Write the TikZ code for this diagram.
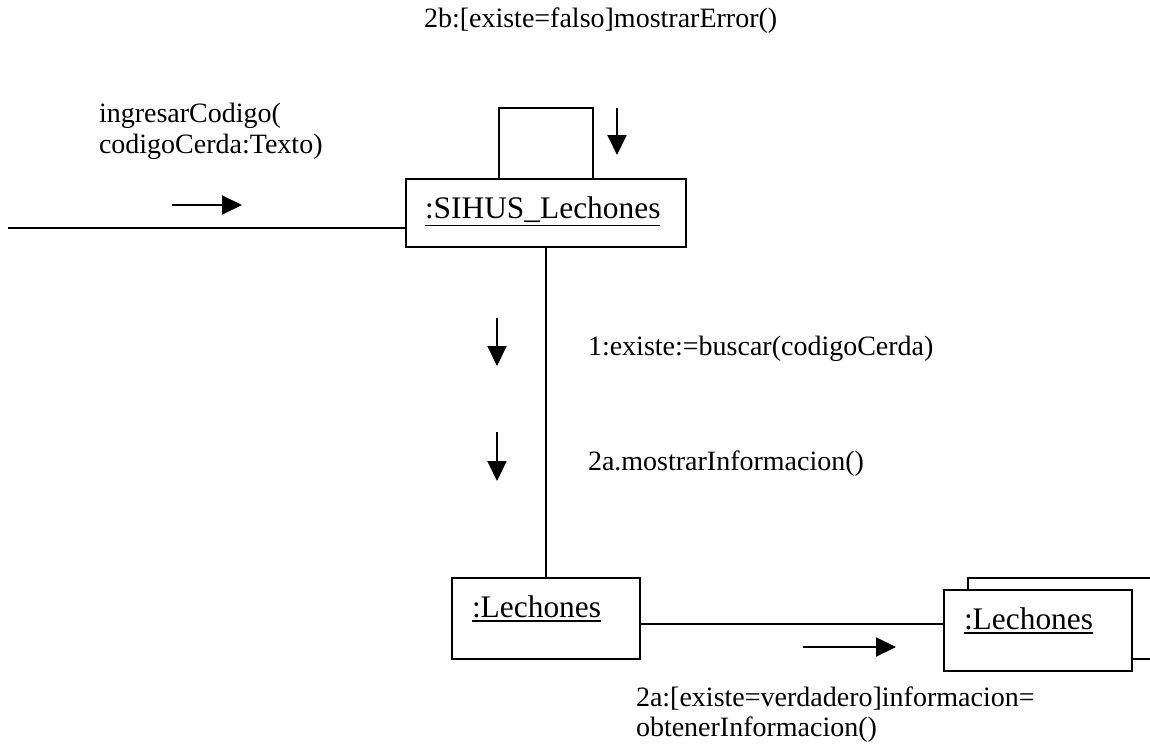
\documentclass[tikz,border=0pt]{standalone}
\usepackage{fontspec}
\setmainfont{Liberation Serif}
\usetikzlibrary{arrows.meta,positioning}
\def\lbl{\fontsize{28}{30}\selectfont}
\def\objname#1{\vtop{\hbox{#1}\kern2.5pt\hrule height 1.8pt}}

\begin{document}
\begin{tikzpicture}[x=1pt,y=-1pt,>={Triangle[length=20pt,width=19pt]},line width=2pt,
    obj/.style={draw,fill=white,font=\fontsize{31.4}{36}\selectfont,align=left,
        text width=148pt,inner xsep=20pt,inner ysep=0pt,text height=39pt,text depth=42pt},
    msg/.style={font=\lbl,inner sep=0pt,align=left}]

    \useasboundingbox (0,0) rectangle (1150,749);
    \clip (0,0) rectangle (1150,749);

    \node[obj,text width=242pt,inner xsep=19pt,text depth=29pt] (SH) at (546,213) {\objname{:SIHUS\_Lechones}};

    \node[obj,below=329pt of SH] (LA) {\objname{:Lechones}};

    \node[obj,right=326pt of LA] (LC) {};
    \node[obj] (LB) at ([xshift=-24pt,yshift=-12pt]LC) {\objname{:Lechones}};

    \coordinate (IN) at (8,228);
    \draw (IN) to (IN -| SH.west);

    \coordinate (LL) at (499,108);
    \coordinate (LR) at (593,108);
    \draw (LL |- SH.north) -- (LL) -- (LR) -- (LR |- SH.north);

    \draw (SH) to (LA);

    \draw (LA.east) ++(0,5.5) coordinate (LK) to (LK -| LB.west);

    \node[msg,anchor=base west] (T) at (423,28) {2b:[existe=falso]mostrarError()};
    \node[msg,anchor=base west] (IC) at (98,153) {ingresarCodigo(\\codigoCerda:Texto)};
    \node[msg,anchor=base west] (M1) at (587,355) {1:existe:=buscar(codigoCerda)};
    \node[msg,anchor=base west] (M2) at (587,470) {2a.mostrarInformacion()};
    \node[msg,anchor=base west] (M3) at (635,736) {2a:[existe=verdadero]informacion=\\obtenerInformacion()};

    \coordinate (A1) at (172,205);
    \coordinate (A2) at (242,205);
    \draw[->] (A1) to (A2);

    \coordinate (B1) at (617,108);
    \coordinate (B2) at (617,155);
    \draw[->] (B1) to (B2);

    \coordinate (C1) at (497,318);
    \coordinate (C2) at (497,366);
    \draw[->] (C1) to (C2);

    \coordinate (D1) at (497,432);
    \coordinate (D2) at (497,481);
    \draw[->] (D1) to (D2);

    \coordinate (E1) at (803,647);
    \coordinate (E2) at (896,647);
    \draw[->] (E1) to (E2);

\end{tikzpicture}
\end{document}
